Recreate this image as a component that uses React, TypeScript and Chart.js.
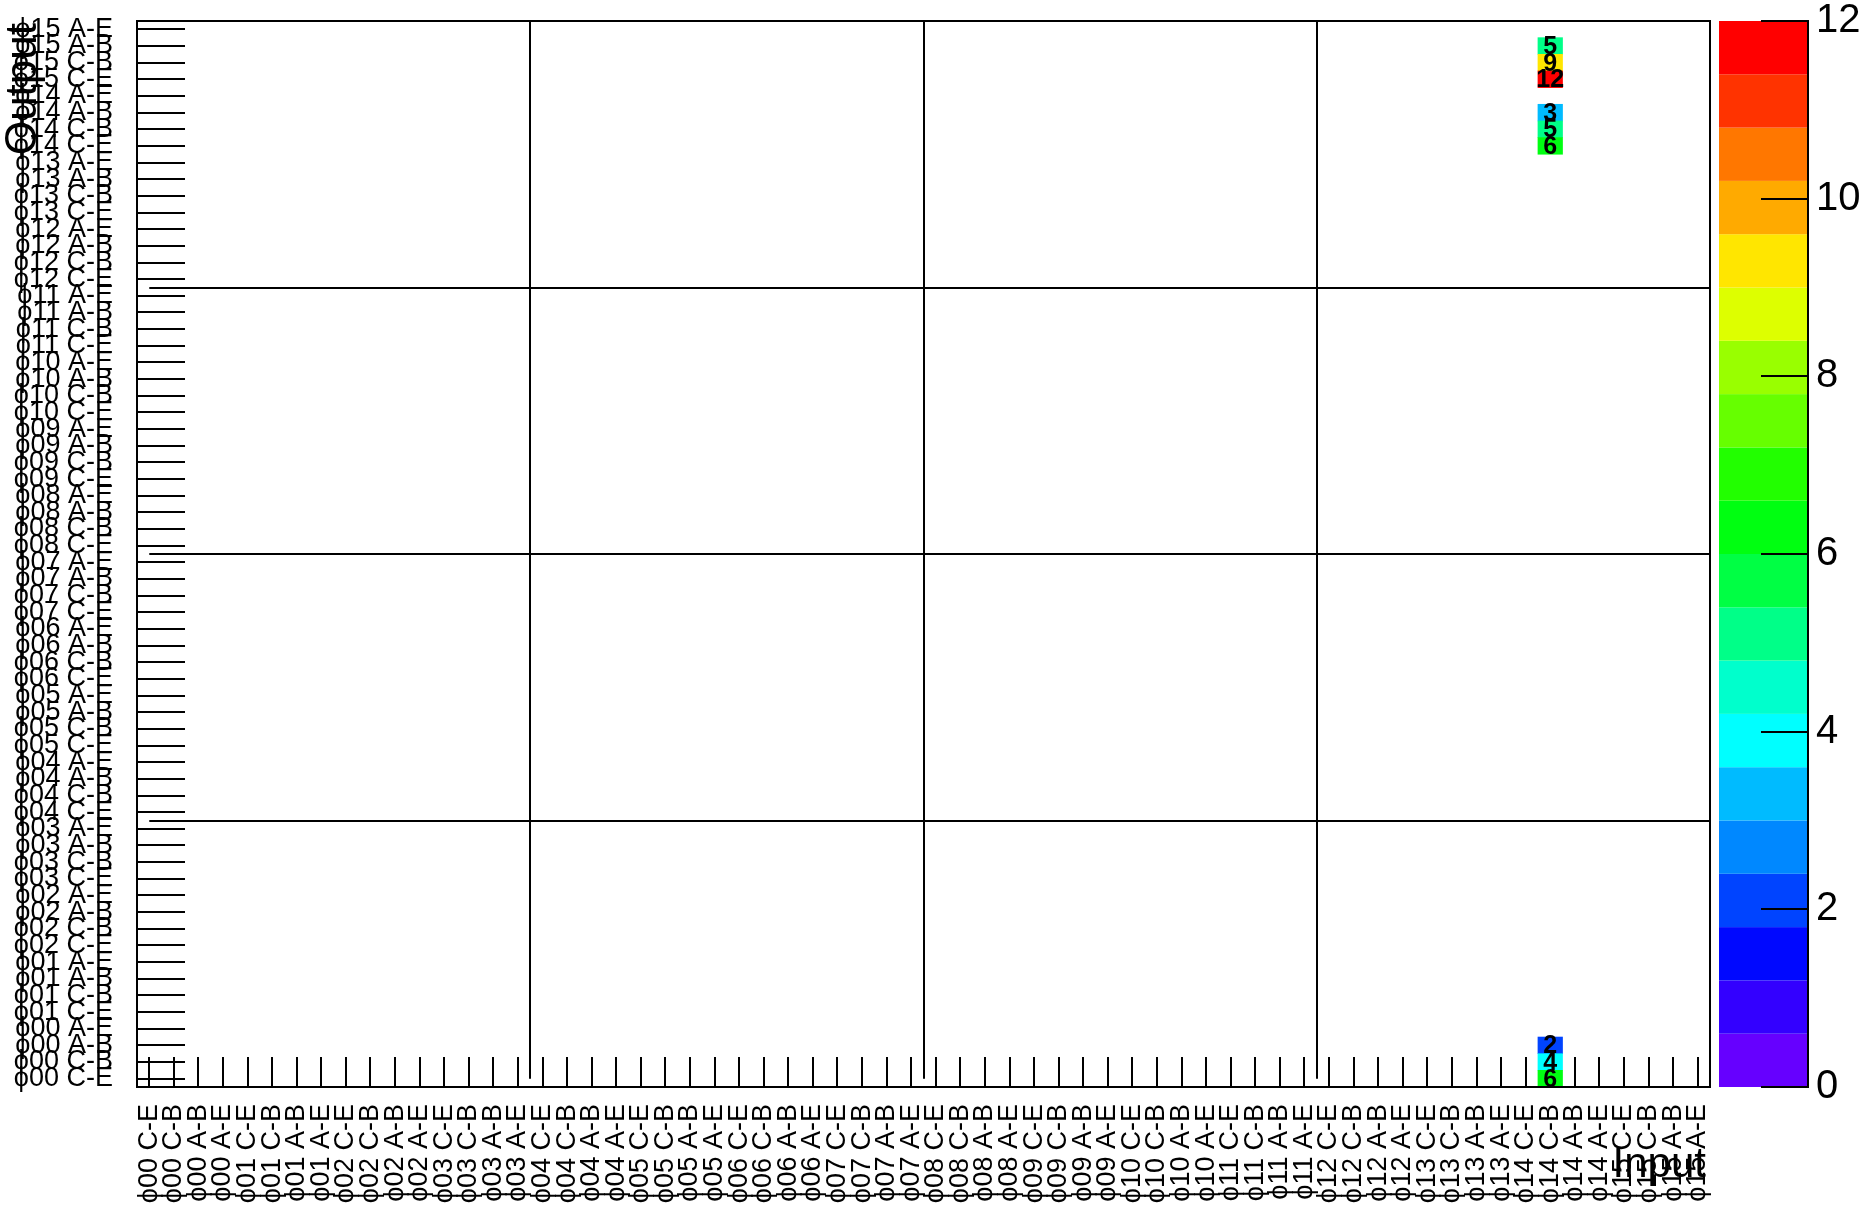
import React, { useEffect, useRef } from 'react';
import { Chart, registerables } from 'chart.js';

Chart.register(...registerables);

// ---- data ----
const phiSectors = ['00', '01', '02', '03', '04', '05', '06', '07', '08', '09', '10', '11', '12', '13', '14', '15'];
const sides = ['C-E', 'C-B', 'A-B', 'A-E'];
const xLabels: string[] = phiSectors.flatMap((p) => sides.map((s) => `ϕ${p} ${s}`));
const yLabels: string[] = xLabels.slice();

const cellX = ['ϕ14 C-B', 'ϕ14 C-B', 'ϕ14 C-B', 'ϕ14 C-B', 'ϕ14 C-B', 'ϕ14 C-B', 'ϕ14 C-B', 'ϕ14 C-B', 'ϕ14 C-B'];
const cellY = ['ϕ15 A-B', 'ϕ15 C-B', 'ϕ15 C-E', 'ϕ14 A-B', 'ϕ14 C-B', 'ϕ14 C-E', 'ϕ00 A-B', 'ϕ00 C-B', 'ϕ00 C-E'];
const cellValues = [5, 9, 12, 3, 5, 6, 2, 4, 6];

const gridBins = [16, 32, 48];
const zMin = 0;
const zMax = 12;
const zStep = 2;
const palette = [
  '#6600ff', '#3300ff', '#0008ff', '#0044ff', '#0088ff',
  '#00bbff', '#00ffff', '#00ffcc', '#00ff88', '#00ff44',
  '#00ff11', '#22ff00', '#66ff00', '#99ff00', '#ddff00',
  '#ffe600', '#ffaa00', '#ff7700', '#ff3300', '#ff0000',
];
const xTitle = 'Input';
const yTitle = 'Output';

const FONT = '"Liberation Sans", Arial, Helvetica, sans-serif';

function colorFor(v: number): string {
  const n = palette.length;
  let i = Math.floor(((v - zMin) / (zMax - zMin)) * n);
  if (i < 0) i = 0;
  if (i > n - 1) i = n - 1;
  return palette[i];
}

function zeroPad(s: any) {
  s.paddingTop = 0;
  s.paddingBottom = 0;
  s.paddingLeft = 0;
  s.paddingRight = 0;
}

const rootPlugin = {
  id: 'rootStyle',
  beforeDatasetsDraw(chart: any) {
    const { ctx, chartArea: a } = chart;
    const x = chart.scales.x;
    const y = chart.scales.y;
    ctx.save();
    ctx.strokeStyle = '#000';
    ctx.lineWidth = 2;
    ctx.beginPath();
    xLabels.forEach((_, i) => {
      const px = Math.round(x.getPixelForValue(i));
      ctx.moveTo(px, a.bottom);
      ctx.lineTo(px, a.bottom - 30);
    });
    y.ticks.forEach((t: any) => {
      const py = Math.round(y.getPixelForValue(t.value));
      ctx.moveTo(a.left, py);
      ctx.lineTo(a.left + 48, py);
    });
    gridBins.forEach((g) => {
      const px = Math.round(x.getPixelForValue(g - 0.5));
      ctx.moveTo(px, a.top);
      ctx.lineTo(px, y.getPixelForValue(0.5));
      const py = Math.round(y.getPixelForValue(g));
      ctx.moveTo(x.getPixelForValue(0), py);
      ctx.lineTo(a.right, py);
    });
    ctx.stroke();
    ctx.restore();
  },
  afterDatasetsDraw(chart: any) {
    const { ctx, chartArea: a } = chart;
    const z = chart.scales.z;
    ctx.save();
    // cell values
    const meta = chart.getDatasetMeta(0);
    ctx.fillStyle = '#000';
    ctx.font = `bold 25px ${FONT}`;
    ctx.textAlign = 'center';
    ctx.textBaseline = 'middle';
    meta.data.forEach((el: any, i: number) => {
      const p = el.getProps(['x', 'y', 'base'], true);
      ctx.fillText(String(cellValues[i]), p.x, (p.y + p.base) / 2 + 1);
    });
    // frame
    ctx.strokeStyle = '#000';
    ctx.lineWidth = 2;
    ctx.strokeRect(a.left, a.top, a.right - a.left, a.bottom - a.top);
    // colour bar
    const barL = a.right + 9;
    const barR = a.right + 98;
    const n = palette.length;
    for (let i = 0; i < n; i++) {
      const v0 = zMin + ((zMax - zMin) * i) / n;
      const v1 = zMin + ((zMax - zMin) * (i + 1)) / n;
      const y0 = z.getPixelForValue(v0);
      const y1 = z.getPixelForValue(v1);
      ctx.fillStyle = palette[i];
      ctx.fillRect(barL, y1, barR - barL, y0 - y1);
    }
    ctx.beginPath();
    ctx.moveTo(barR, z.getPixelForValue(zMin));
    ctx.lineTo(barR, z.getPixelForValue(zMax));
    z.ticks.forEach((t: any) => {
      const py = Math.round(z.getPixelForValue(t.value));
      ctx.moveTo(barR - 47, py);
      ctx.lineTo(barR + 1, py);
    });
    ctx.stroke();
    // axis titles
    ctx.fillStyle = '#000';
    ctx.font = `42px ${FONT}`;
    ctx.textAlign = 'right';
    ctx.textBaseline = 'alphabetic';
    ctx.fillText(xTitle, a.right - 4, a.bottom + 90);
    ctx.font = `44px ${FONT}`;
    ctx.translate(24, a.top + 2);
    ctx.rotate(-Math.PI / 2);
    ctx.textBaseline = 'middle';
    ctx.fillText(yTitle, 0, 0);
    ctx.restore();
  },
};

export default function App() {
  const ref = useRef<HTMLCanvasElement>(null);
  useEffect(() => {
    document.body.style.margin = '0';
    document.body.style.overflow = 'hidden';
    const canvas = ref.current;
    if (!canvas) return;
    Chart.defaults.font.family = FONT;
    Chart.defaults.color = '#000';
    const chart = new Chart(canvas, {
      type: 'bar',
      data: {
        labels: xLabels,
        datasets: [
          {
            data: cellX.map((cx, i) => {
              const yi = yLabels.indexOf(cellY[i]);
              return { x: cx, y: [yi, yi + 1] };
            }) as any,
            backgroundColor: cellValues.map(colorFor),
            borderWidth: 0,
            barPercentage: 1,
            categoryPercentage: 1,
          },
        ],
      },
      options: {
        responsive: false,
        animation: false,
        events: [],
        layout: { padding: { top: 21, left: 0, right: 0, bottom: 0 } },
        plugins: { legend: { display: false }, tooltip: { enabled: false }, title: { display: false } },
        scales: {
          x: {
            type: 'category',
            offset: true,
            grid: { display: false, drawTicks: false },
            border: { display: false },
            ticks: {
              autoSkip: false,
              minRotation: 90,
              maxRotation: 90,
              padding: 17,
              color: '#000',
              font: { size: 27, family: FONT },
            },
            afterFit(s: any) {
              s.height = 125;
              zeroPad(s);
            },
          },
          y: {
            type: 'linear',
            min: 0,
            max: yLabels.length,
            grid: { display: false, drawTicks: false },
            border: { display: false },
            afterBuildTicks(s: any) {
              s.ticks = yLabels.map((_, i) => ({ value: i + 0.5 }));
            },
            ticks: {
              autoSkip: false,
              padding: 24,
              color: '#000',
              font: { size: 27, family: FONT },
              callback: (_v: any, i: number) => yLabels[i],
            },
            afterFit(s: any) {
              s.width = 137;
              zeroPad(s);
            },
          },
          z: {
            type: 'linear',
            position: 'right',
            min: zMin,
            max: zMax,
            grid: { display: false, drawTicks: false },
            border: { display: false },
            ticks: {
              stepSize: zStep,
              padding: 106,
              color: '#000',
              font: { size: 40, family: FONT },
            },
            afterFit(s: any) {
              s.width = 158;
              zeroPad(s);
            },
          },
        },
      } as any,
      plugins: [rootPlugin],
    });
    return () => chart.destroy();
  }, []);
  return (
    <div style={{ position: 'absolute', left: 0, top: 0, width: 1868, height: 1212, background: '#fff' }}>
      <canvas ref={ref} width={1868} height={1212} style={{ display: 'block', width: 1868, height: 1212 }} />
    </div>
  );
}
